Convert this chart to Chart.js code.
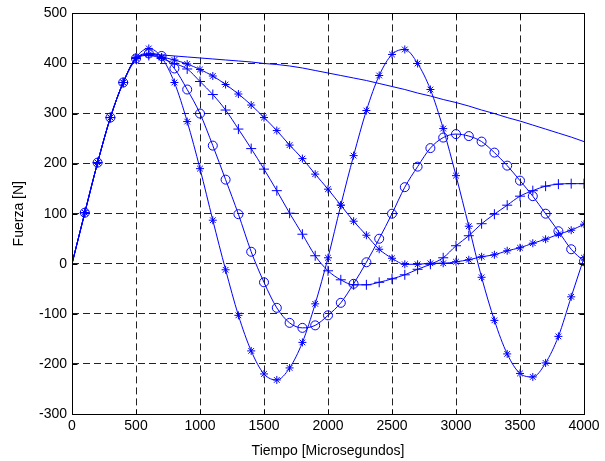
<!DOCTYPE html>
<html>
<head>
<meta charset="utf-8">
<script src="https://cdn.jsdelivr.net/npm/chart.js@4.4.1/dist/chart.umd.min.js"></script>
<style>
  html, body { margin: 0; background: #fff; }
  #wrap { width: 605px; height: 461px; }
</style>
</head>
<body>
<div id="wrap"><canvas id="fuerza" width="605" height="461"></canvas></div>
<script>
// Tiempo [Microsegundos] for every sample
const tiempo = [0, 100, 200, 300, 400, 500, 600, 700, 800, 900,
  1000, 1100, 1200, 1300, 1400, 1500, 1600, 1700, 1800, 1900,
  2000, 2100, 2200, 2300, 2400, 2500, 2600, 2700, 2800, 2900,
  3000, 3100, 3200, 3300, 3400, 3500, 3600, 3700, 3800, 3900, 4000];

// line without markers
const fuerzaLinea = [0, 102, 202, 292, 362, 408, 418, 417, 415, 413,
  411, 409, 407, 405, 403, 400, 398, 395, 391, 386,
  381, 376, 371, 366, 360, 354, 348, 341, 335, 328,
  322, 315, 307, 300, 292, 285, 277, 269, 261, 253, 244];

// '*' fast oscillation
const fuerzaRapida = [0, 102, 202, 292, 362, 412, 430, 412, 362, 284,
  190, 87, -12, -103, -174, -220, -232, -208, -157, -80,
  12, 117, 216, 306, 376, 418, 428, 400, 348, 270,
  176, 75, -27, -113, -180, -219, -226, -198, -145, -66, 12];

// 'o'
const fuerzaCirculo = [0, 102, 202, 292, 362, 410, 420, 415, 390, 348,
  300, 236, 168, 99, 24, -37, -88, -118, -128, -123,
  -103, -78, -40, 3, 50, 100, 153, 194, 231, 252,
  259, 255, 244, 222, 196, 166, 135, 100, 65, 29, 5];

// '+'
const fuerzaCruz = [0, 102, 202, 292, 362, 410, 416, 410, 400, 389,
  364, 338, 307, 269, 230, 189, 146, 101, 59, 16,
  -14, -32, -42, -42, -37, -30, -22, -11, -1, 12,
  36, 56, 80, 99, 117, 135, 146, 155, 159, 160, 160];

// '*' slow decay
const fuerzaLenta = [0, 102, 202, 292, 362, 410, 418, 413, 407, 399,
  388, 375, 358, 339, 317, 292, 266, 237, 210, 179,
  149, 117, 85, 57, 29, 11, -1, -1, 1, 1,
  4, 8, 14, 18, 26, 32, 41, 49, 59, 67, 79];

const azul = '#0000ff';
const pares = ys => tiempo.map((t, i) => ({ x: t, y: ys[i] }));

function serie(ys, estilo, radio) {
    return {
        data: pares(ys),
        borderColor: azul,
        backgroundColor: 'rgba(0,0,0,0)',
        borderWidth: 1,
        pointStyle: estilo,
        pointRadius: c => (estilo && c.dataIndex > 0) ? radio : 0,
        pointBorderColor: azul,
        pointBorderWidth: 1,
        pointBackgroundColor: 'rgba(0,0,0,0)',
        cubicInterpolationMode: 'monotone'
    };
}

// MATLAB-style box with inward ticks
const marco = {
    id: 'marco',
    afterDraw(chart) {
        const { ctx, chartArea: a, scales: { x, y } } = chart;
        const l = Math.round(a.left) + 0.5, r = Math.round(a.right) + 0.5;
        const t = Math.round(a.top) + 0.5, b = Math.round(a.bottom) + 0.5;
        ctx.save();
        ctx.strokeStyle = '#000';
        ctx.lineWidth = 1;
        ctx.setLineDash([]);
        ctx.strokeRect(l, t, r - l, b - t);
        ctx.beginPath();
        x.ticks.forEach(tk => {
            const p = Math.round(x.getPixelForValue(tk.value)) + 0.5;
            ctx.moveTo(p, b); ctx.lineTo(p, b - 5);
            ctx.moveTo(p, t); ctx.lineTo(p, t + 5);
        });
        y.ticks.forEach(tk => {
            const p = Math.round(y.getPixelForValue(tk.value)) + 0.5;
            ctx.moveTo(l, p); ctx.lineTo(l + 5, p);
            ctx.moveTo(r, p); ctx.lineTo(r - 5, p);
        });
        ctx.stroke();
        ctx.restore();
    }
};

const fuente = { family: '"Liberation Sans", Arial, sans-serif', size: 14 };
const sinComas = v => String(v);

new Chart(document.getElementById('fuerza'), {
    type: 'line',
    data: {
        datasets: [
            serie(fuerzaLinea, false, 0),
            serie(fuerzaRapida, 'star', 4),
            serie(fuerzaCirculo, 'circle', 4.5),
            serie(fuerzaCruz, 'cross', 5),
            serie(fuerzaLenta, 'star', 4)
        ]
    },
    options: {
        responsive: false,
        animation: false,
        layout: { padding: { left: 0, right: 21, top: 11, bottom: 0 } },
        plugins: { legend: { display: false }, tooltip: { enabled: false } },
        scales: {
            x: {
                type: 'linear', min: 0, max: 4000,
                afterFit: s => { s.height = 47; },
                ticks: { stepSize: 500, color: '#000', font: fuente, padding: 4, maxRotation: 0, callback: sinComas },
                grid: { color: '#222', lineWidth: 1, drawTicks: false },
                border: { display: false, dash: [7, 4] },
                title: { display: true, text: 'Tiempo [Microsegundos]', color: '#000', font: fuente, padding: { top: 0, bottom: 1 } }
            },
            y: {
                type: 'linear', min: -300, max: 500,
                afterFit: s => { s.width = 72; },
                ticks: { stepSize: 100, color: '#000', font: fuente, padding: 5, callback: sinComas },
                grid: { color: '#222', lineWidth: 1, drawTicks: false },
                border: { display: false, dash: [7, 4] },
                title: { display: true, text: 'Fuerza [N]', color: '#000', font: fuente, padding: { top: 11, bottom: 0 } }
            }
        }
    },
    plugins: [marco]
});
</script>
</body>
</html>
